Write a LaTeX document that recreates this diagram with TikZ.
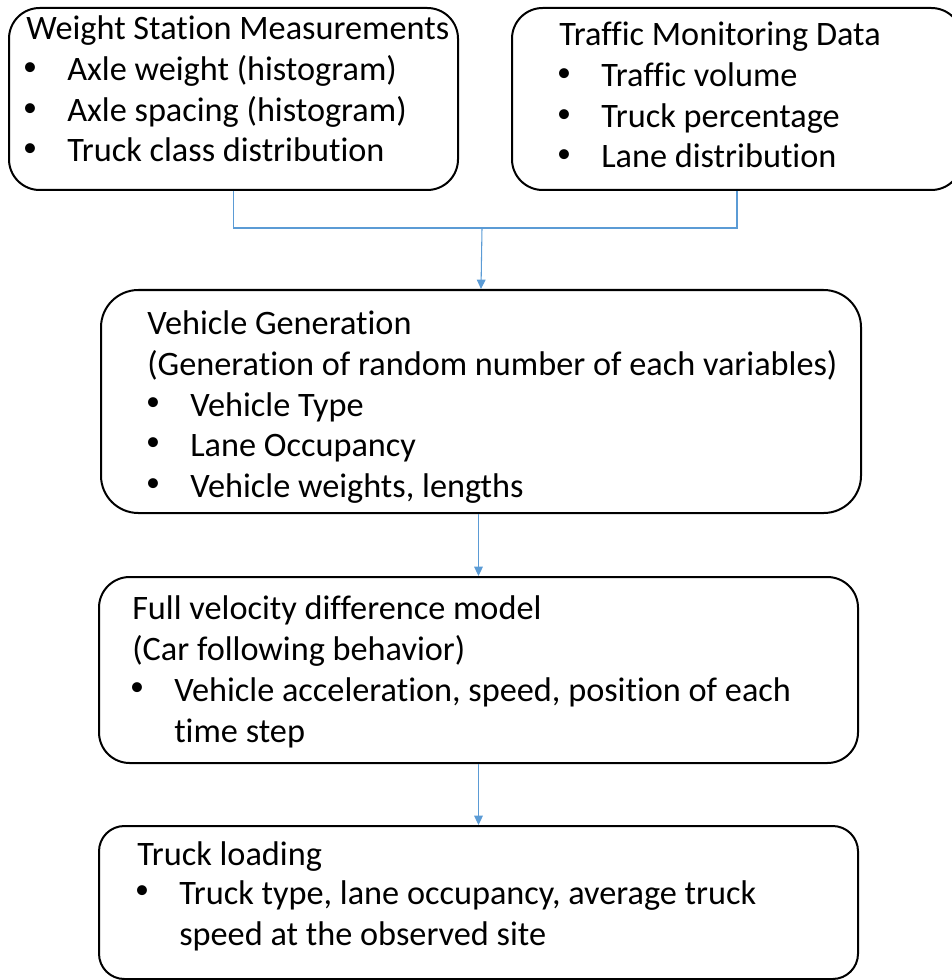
\documentclass[tikz,border=0pt]{standalone}
\usepackage{fontspec}
\setmainfont[Ligatures=NoCommon]{Carlito}
\usetikzlibrary{arrows.meta}
\definecolor{linkblue}{HTML}{5B9BD5}
\begin{document}
\begin{tikzpicture}[x=0.75pt,y=-0.75pt,
  box/.style={draw=black, line width=1.5pt, inner sep=0pt},
  txt/.style={anchor=base west, inner sep=0pt, font=\fontsize{25.7}{30}\selectfont},
  dotmark/.style={anchor=center, inner sep=0pt, font=\fontsize{21}{21}\selectfont},
  link/.style={draw=linkblue, line width=0.8pt},
  arr/.style={link, -{Triangle[width=6.5pt,length=7pt]}}]
\useasboundingbox (0,0) rectangle (951,980);

% process boxes
\node[box, rounded corners=23pt, minimum width=449*0.75pt, minimum height=182*0.75pt] (ws) at (233.5,99) {};
\node[box, rounded corners=23pt, minimum width=450*0.75pt, minimum height=182*0.75pt] (tm) at (737,99) {};
\node[box, rounded corners=28pt, minimum width=760*0.75pt, minimum height=223*0.75pt] (vg) at (481,401.5) {};
\node[box, rounded corners=23pt, minimum width=759*0.75pt, minimum height=186*0.75pt] (fv) at (478.5,670) {};
\node[box, rounded corners=19pt, minimum width=759*0.75pt, minimum height=153*0.75pt] (tl) at (478.5,902.5) {};

% connectors
\coordinate (join) at (482,228);
\draw[link] (ws.south) |- (join);
\draw[link] (tm.south) |- (join);
\draw[arr] (join) -- (vg.north);
\draw[arr] (fv.north |- vg.south) -- (fv.north);
\draw[arr] (tl.north |- fv.south) -- (tl.north);

% Weight Station Measurements
\node[txt] (ws-t) at (26,40) {Weight Station Measurements};
\node[dotmark] (ws-b1) at (30,69.5) {•};
\node[txt] (ws-i1) at (67,81) {Axle weight (histogram)};
\node[dotmark] (ws-b2) at (30,110.5) {•};
\node[txt] (ws-i2) at (67,122) {Axle spacing (histogram)};
\node[dotmark] (ws-b3) at (30,150.5) {•};
\node[txt] (ws-i3) at (67,162) {Truck class distribution};

% Traffic Monitoring Data
\node[txt] (tm-t) at (559,46) {Traffic Monitoring Data};
\node[dotmark] (tm-b1) at (564,75.5) {•};
\node[txt] (tm-i1) at (601,87) {Traffic volume};
\node[dotmark] (tm-b2) at (564,116.5) {•};
\node[txt] (tm-i2) at (601,128) {Truck percentage};
\node[dotmark] (tm-b3) at (564,156.5) {•};
\node[txt] (tm-i3) at (601,168) {Lane distribution};

% Vehicle Generation
\node[txt] (vg-t) at (147,334) {Vehicle Generation};
\node[txt] (vg-s) at (147,375) {(Generation of random number of each variables)};
\node[dotmark] (vg-b1) at (153,404.5) {•};
\node[txt] (vg-i1) at (190,416) {Vehicle Type};
\node[dotmark] (vg-b2) at (153,444.5) {•};
\node[txt] (vg-i2) at (190,456) {Lane Occupancy};
\node[dotmark] (vg-b3) at (153,485.5) {•};
\node[txt] (vg-i3) at (190,497) {Vehicle weights, lengths};

% Full velocity difference model
\node[txt] (fv-t) at (132,619) {Full velocity difference model};
\node[txt] (fv-s) at (132,660) {(Car following behavior)};
\node[dotmark] (fv-b1) at (137,689.5) {•};
\node[txt] (fv-i1) at (174,701) {Vehicle acceleration, speed, position of each};
\node[txt] (fv-i1b) at (174,742) {time step};

% Truck loading
\node[txt] (tl-t) at (137,865) {Truck loading};
\node[dotmark] (tl-b1) at (142,892.5) {•};
\node[txt] (tl-i1) at (179,904) {Truck type, lane occupancy, average truck};
\node[txt] (tl-i1b) at (179,945) {speed at the observed site};
\end{tikzpicture}
\end{document}
